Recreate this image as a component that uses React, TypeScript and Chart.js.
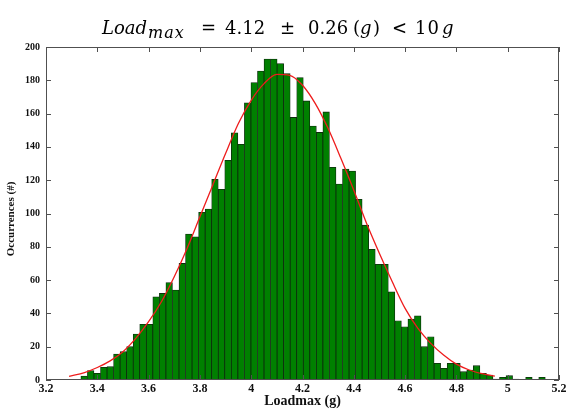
import React, { useEffect, useRef } from 'react';
import { Chart, registerables } from 'chart.js';

Chart.register(...registerables);

// Histogram bins (Loadmax, g)
const BIN_START = 3.336;
const BIN_WIDTH = 0.0255;
const COUNTS = [
  2.4, 5.6, 4, 7.6, 8, 15.6, 17, 20, 27.6, 33.4,
  33.4, 50, 52, 58.5, 54, 70, 87.7, 86, 100.7, 102.7,
  120.5, 114.5, 132, 148.5, 141.5, 166.5, 178.6, 185.6, 192.8, 192.8,
  190, 184, 157.7, 181.6, 167.6, 152.5, 148.7, 161, 127.7, 117.7,
  126.7, 125.5, 108.5, 93, 78.5, 69.5, 69.5, 53, 35.6, 32,
  36.6, 38.5, 20, 26, 10, 7, 10, 10, 5, 6,
  8.6, 4, 3, 0.6, 1.6, 2.6, 0.6, 0, 1.6, 0,
  1.6,
];

// Fitted curve
const FIT_X = [3.29, 3.35, 3.4, 3.45, 3.5, 3.55, 3.6, 3.65, 3.7, 3.75, 3.8, 3.85, 3.9, 3.95, 4.0, 4.05, 4.1, 4.15, 4.2, 4.25, 4.3, 4.35, 4.4, 4.45, 4.5, 4.55, 4.6, 4.65, 4.7, 4.75, 4.8, 4.85, 4.9, 4.95];
const FIT_Y = [2.2, 4.5, 7.5, 11.5, 17, 25, 35, 47, 62, 79, 98, 117, 136, 154, 168, 178, 183.5, 183, 177, 166, 151, 133, 114, 94, 76, 59, 43, 31, 22, 15, 9.5, 6, 3.8, 2.3];

const X_MIN = 3.2;
const X_MAX = 5.2;
const X_STEP = 0.2;
const Y_MIN = 0;
const Y_MAX = 200;
const Y_STEP = 20;

const X_TITLE = 'Loadmax (g)';
const Y_TITLE = 'Occurrences (#)';

// Title pieces
const TITLE_PARTS: { t: string; it: boolean; sub?: boolean; left: number; ls?: number }[] = [
  { t: 'Load', it: true, left: 102 },
  { t: 'max', it: true, sub: true, left: 148, ls: 1 },
  { t: '=', it: false, left: 201 },
  { t: '4.12', it: false, left: 225 },
  { t: '\u00B1', it: false, left: 280 },
  { t: '0.26', it: false, left: 308 },
  { t: '(', it: false, left: 353 },
  { t: 'g', it: true, left: 360 },
  { t: ')', it: false, left: 373 },
  { t: '<', it: false, left: 392 },
  { t: '10', it: false, left: 415, ls: 1 },
  { t: 'g', it: true, left: 442 },
];

const boxTicks = {
  id: 'boxTicks',
  afterDatasetsDraw(chart: any) {
    const { ctx, chartArea, scales } = chart;
    const { left, right, top, bottom } = chartArea;
    const xs = scales.x;
    const ys = scales.y;
    const L = 5;
    ctx.save();
    ctx.strokeStyle = '#505050';
    ctx.lineWidth = 1;
    ctx.beginPath();
    xs.ticks.forEach((t: any) => {
      const px = Math.round(xs.getPixelForValue(t.value)) + 0.5;
      ctx.moveTo(px, bottom);
      ctx.lineTo(px, bottom - L);
      ctx.moveTo(px, top);
      ctx.lineTo(px, top + L);
    });
    ys.ticks.forEach((t: any) => {
      const py = Math.round(ys.getPixelForValue(t.value)) + 0.5;
      ctx.moveTo(left, py);
      ctx.lineTo(left + L, py);
      ctx.moveTo(right, py);
      ctx.lineTo(right - L, py);
    });
    ctx.stroke();
    ctx.strokeRect(Math.round(left) + 0.5, Math.round(top) + 0.5, Math.round(right - left) - 1, Math.round(bottom - top) - 1);
    ctx.restore();
  },
};

export default function App() {
  const ref = useRef<HTMLCanvasElement | null>(null);

  useEffect(() => {
    if (!ref.current) return;
    const bars = COUNTS.map((c, i) => ({ x: BIN_START + (i + 0.5) * BIN_WIDTH, y: c }));
    const fit = FIT_X.map((x, i) => ({ x, y: FIT_Y[i] }));
    const fam = "'Liberation Serif', 'Times New Roman', serif";
    const chart = new Chart(ref.current, {
      type: 'bar',
      data: {
        datasets: [
          {
            type: 'line',
            data: fit,
            borderColor: '#ee1c1c',
            borderWidth: 1.3,
            pointRadius: 0,
            fill: false,
            cubicInterpolationMode: 'monotone',
            order: 0,
          } as any,
          {
            type: 'bar',
            data: bars,
            backgroundColor: '#008000',
            borderColor: '#0d2a0d',
            borderWidth: 0.8,
            barPercentage: 1,
            categoryPercentage: 1,
            order: 1,
          } as any,
        ],
      },
      options: {
        responsive: false,
        animation: false,
        devicePixelRatio: 1,
        layout: { padding: { top: 47, right: 11, left: 0, bottom: 0 } },
        plugins: { legend: { display: false }, tooltip: { enabled: false }, title: { display: false } },
        scales: {
          x: {
            type: 'linear',
            min: X_MIN,
            max: X_MAX,
            offset: false,
            grid: { display: false, drawTicks: false },
            border: { display: false },
            ticks: {
              stepSize: X_STEP,
              color: '#111',
              font: { family: fam, weight: 'bold', size: 12 },
              padding: 2,
              maxRotation: 0,
              autoSkip: false,
              callback: (v: any) => String(Number(Number(v).toFixed(1))),
            },
            title: {
              display: true,
              text: X_TITLE,
              color: '#111',
              font: { family: fam, weight: 'bold', size: 14 },
              padding: { top: 0, bottom: 0 },
            },
            afterFit: (s: any) => { s.height = 30; },
          },
          y: {
            min: Y_MIN,
            max: Y_MAX,
            grid: { display: false, drawTicks: false },
            border: { display: false },
            ticks: {
              stepSize: Y_STEP,
              color: '#111',
              font: { family: fam, weight: 'bold', size: 10 },
              padding: 6,
            },
            title: {
              display: true,
              text: Y_TITLE + '\u00A0\u00A0\u00A0\u00A0',
              color: '#111',
              font: { family: fam, weight: 'bold', size: 11 },
              padding: { top: 5, bottom: 0 },
            },
            afterFit: (s: any) => { s.width = 46; },
          },
        },
      },
      plugins: [boxTicks],
    });
    return () => chart.destroy();
  }, []);

  const tfam = "'DejaVu Serif', 'Liberation Serif', serif";
  return (
    <div style={{ position: 'fixed', left: 0, top: 0, width: 570, height: 410, background: '#fff' }}>
      <canvas ref={ref} width={570} height={410} style={{ position: 'absolute', left: 0, top: 0 }} />
      {TITLE_PARTS.map((p, i) => (
        <span
          key={i}
          style={{
            position: 'absolute',
            left: p.left,
            top: p.sub ? 33 : 27.5,
            lineHeight: 0,
            fontFamily: tfam,
            fontSize: p.sub ? 16 : 18,
            fontStyle: p.it ? 'italic' : 'normal',
            letterSpacing: p.ls ? p.ls : 0,
            whiteSpace: 'pre',
            color: '#000',
          }}
        >
          {p.t}
        </span>
      ))}
    </div>
  );
}
